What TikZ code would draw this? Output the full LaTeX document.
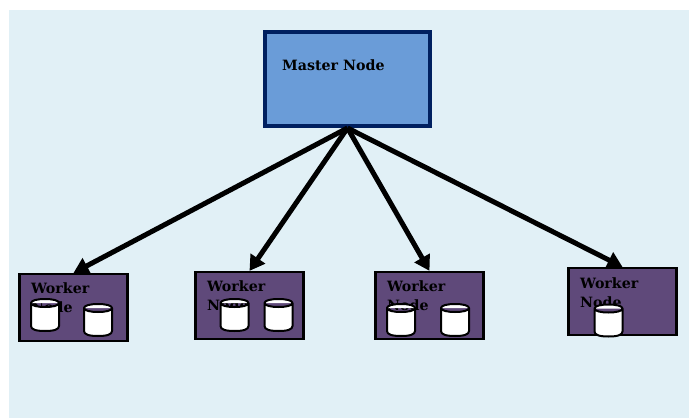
\documentclass[tikz,border=0pt]{standalone}
\usepackage{fontspec}
\setmainfont{DejaVu Serif}
\usetikzlibrary{arrows.meta}
\definecolor{bgc}{HTML}{E1F0F6}
\definecolor{masterc}{HTML}{6A9CD8}
\definecolor{masterb}{HTML}{002060}
\definecolor{workerc}{HTML}{5F497A}
\tikzset{
  x=1pt,y=-1pt,
  masterbox/.style={draw=masterb,line width=4pt,fill=masterc,minimum width=165pt,minimum height=94pt,inner sep=0pt},
  workerbox/.style={draw=black,line width=2.2pt,fill=workerc,minimum width=108pt,minimum height=67pt,inner sep=0pt},
  label/.style={anchor=north west,inner sep=0pt,align=left,font=\bfseries\fontsize{14.2}{19}\selectfont,text=black},
  link/.style={line width=5pt,draw=black,-{Triangle[length=15pt,width=17pt]}},
  disk/.pic={
    \draw[line width=2pt,fill=white,line join=round]
      (-14,-12) -- (-14,11) .. controls (-14,14.5) and (-9,16) .. (0,16)
      .. controls (9,16) and (14,14.5) .. (14,11) -- (14,-12)
      .. controls (14,-9.5) and (8,-8) .. (0,-8)
      .. controls (-8,-8) and (-14,-9.5) .. (-14,-12)
      .. controls (-14,-14.5) and (-8,-16) .. (0,-16)
      .. controls (8,-16) and (14,-14.5) .. (14,-12);
  }
}
\begin{document}
\begin{tikzpicture}
\useasboundingbox (0,0) rectangle (689,418);
\fill[bgc] (9,10) rectangle (689,418);
\node[masterbox] (m) at (347.5,79) {};
\node[label] (mt) at (282,60) {Master Node};
\node[workerbox] (w1) at (73.5,307.5) {};
\node[workerbox] (w2) at (249.5,305.5) {};
\node[workerbox] (w3) at (429.5,305.5) {};
\node[workerbox] (w4) at (622.5,301.5) {};
\node[label] (t1) at (31,283) {Worker\\Node};
\node[label] (t2) at (207,281) {Worker\\Node};
\node[label] (t3) at (387,281) {Worker\\Node};
\node[label] (t4) at (580,278) {Worker\\Node};
\pic at (45,315) {disk};
\pic at (98,320) {disk};
\pic at (234.5,315) {disk};
\pic at (278.5,315) {disk};
\pic at (401,320) {disk};
\pic at (455,320) {disk};
\pic at (608.5,320.5) {disk};
\draw[link] (m.south) -- (w1.north);
\draw[link] (m.south) -- (w2.north);
\draw[link] (m.south) -- (w3.north);
\draw[link] (m.south) -- (w4.north);
\end{tikzpicture}
\end{document}
